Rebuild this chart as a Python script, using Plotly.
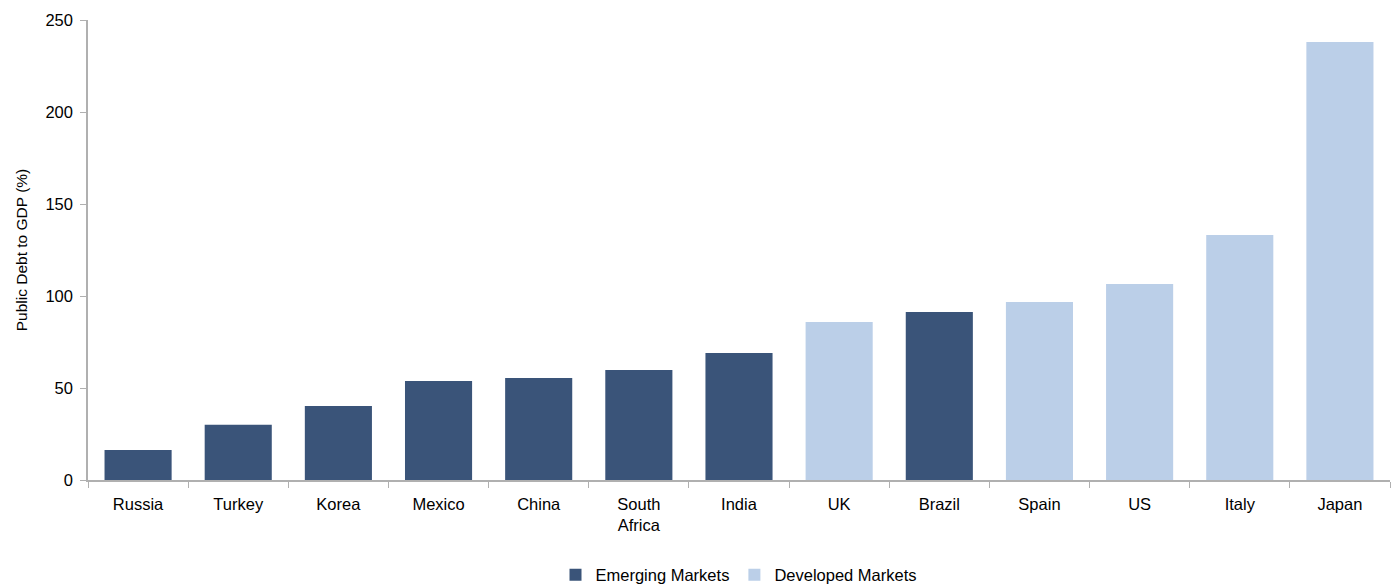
import plotly.graph_objects as go

countries = ["Russia", "Turkey", "Korea", "Mexico", "China", "South<br>Africa", "India",
             "UK", "Brazil", "Spain", "US", "Italy", "Japan"]
debt = [16.3, 30.0, 40.2, 53.8, 55.4, 59.8, 69.0, 85.9, 91.3, 96.7, 106.5, 133.2, 238.0]
group = ["EM", "EM", "EM", "EM", "EM", "EM", "EM", "DM", "EM", "DM", "DM", "DM", "DM"]

em_vals = [v if g == "EM" else None for v, g in zip(debt, group)]
dm_vals = [v if g == "DM" else None for v, g in zip(debt, group)]

dark = "#3A5479"
light = "#BBCFE8"

fig = go.Figure()
fig.add_trace(go.Bar(x=countries, y=em_vals, name="Emerging Markets",
                     marker=dict(color=dark, line=dict(width=0))))
fig.add_trace(go.Bar(x=countries, y=dm_vals, name="Developed Markets",
                     marker=dict(color=light, line=dict(width=0))))

fig.update_layout(
    width=1399, height=586,
    barmode="overlay", bargap=0.33,
    plot_bgcolor="white", paper_bgcolor="white",
    margin=dict(l=88, r=9, t=20, b=106, autoexpand=False),
    font=dict(family="Liberation Sans, Arial, sans-serif", size=16, color="#000000"),
    legend=dict(orientation="h", x=0.5, xanchor="center",
                yref="container", y=1 - 575 / 586, yanchor="middle",
                font=dict(size=16.5), traceorder="normal", itemwidth=30),
    showlegend=True,
)
fig.update_xaxes(
    categoryorder="array", categoryarray=countries,
    showline=True, linecolor="#B0B0B0", linewidth=1.5,
    ticks="outside", tickson="boundaries", ticklen=6, tickcolor="#B0B0B0",
    tickfont=dict(size=16.5), showgrid=False, ticklabelstandoff=8, automargin=False,
)
fig.update_yaxes(
    range=[0, 250], dtick=50,
    showline=True, linecolor="#B0B0B0", linewidth=1.5,
    ticks="outside", ticklen=6, tickcolor="#B0B0B0",
    tickfont=dict(size=16.5), showgrid=False, zeroline=False, ticklabelstandoff=4,
    automargin=False,
    title=dict(text="Public Debt to GDP (%)", font=dict(size=15.5), standoff=14),
)

fig.write_html("out.html")
